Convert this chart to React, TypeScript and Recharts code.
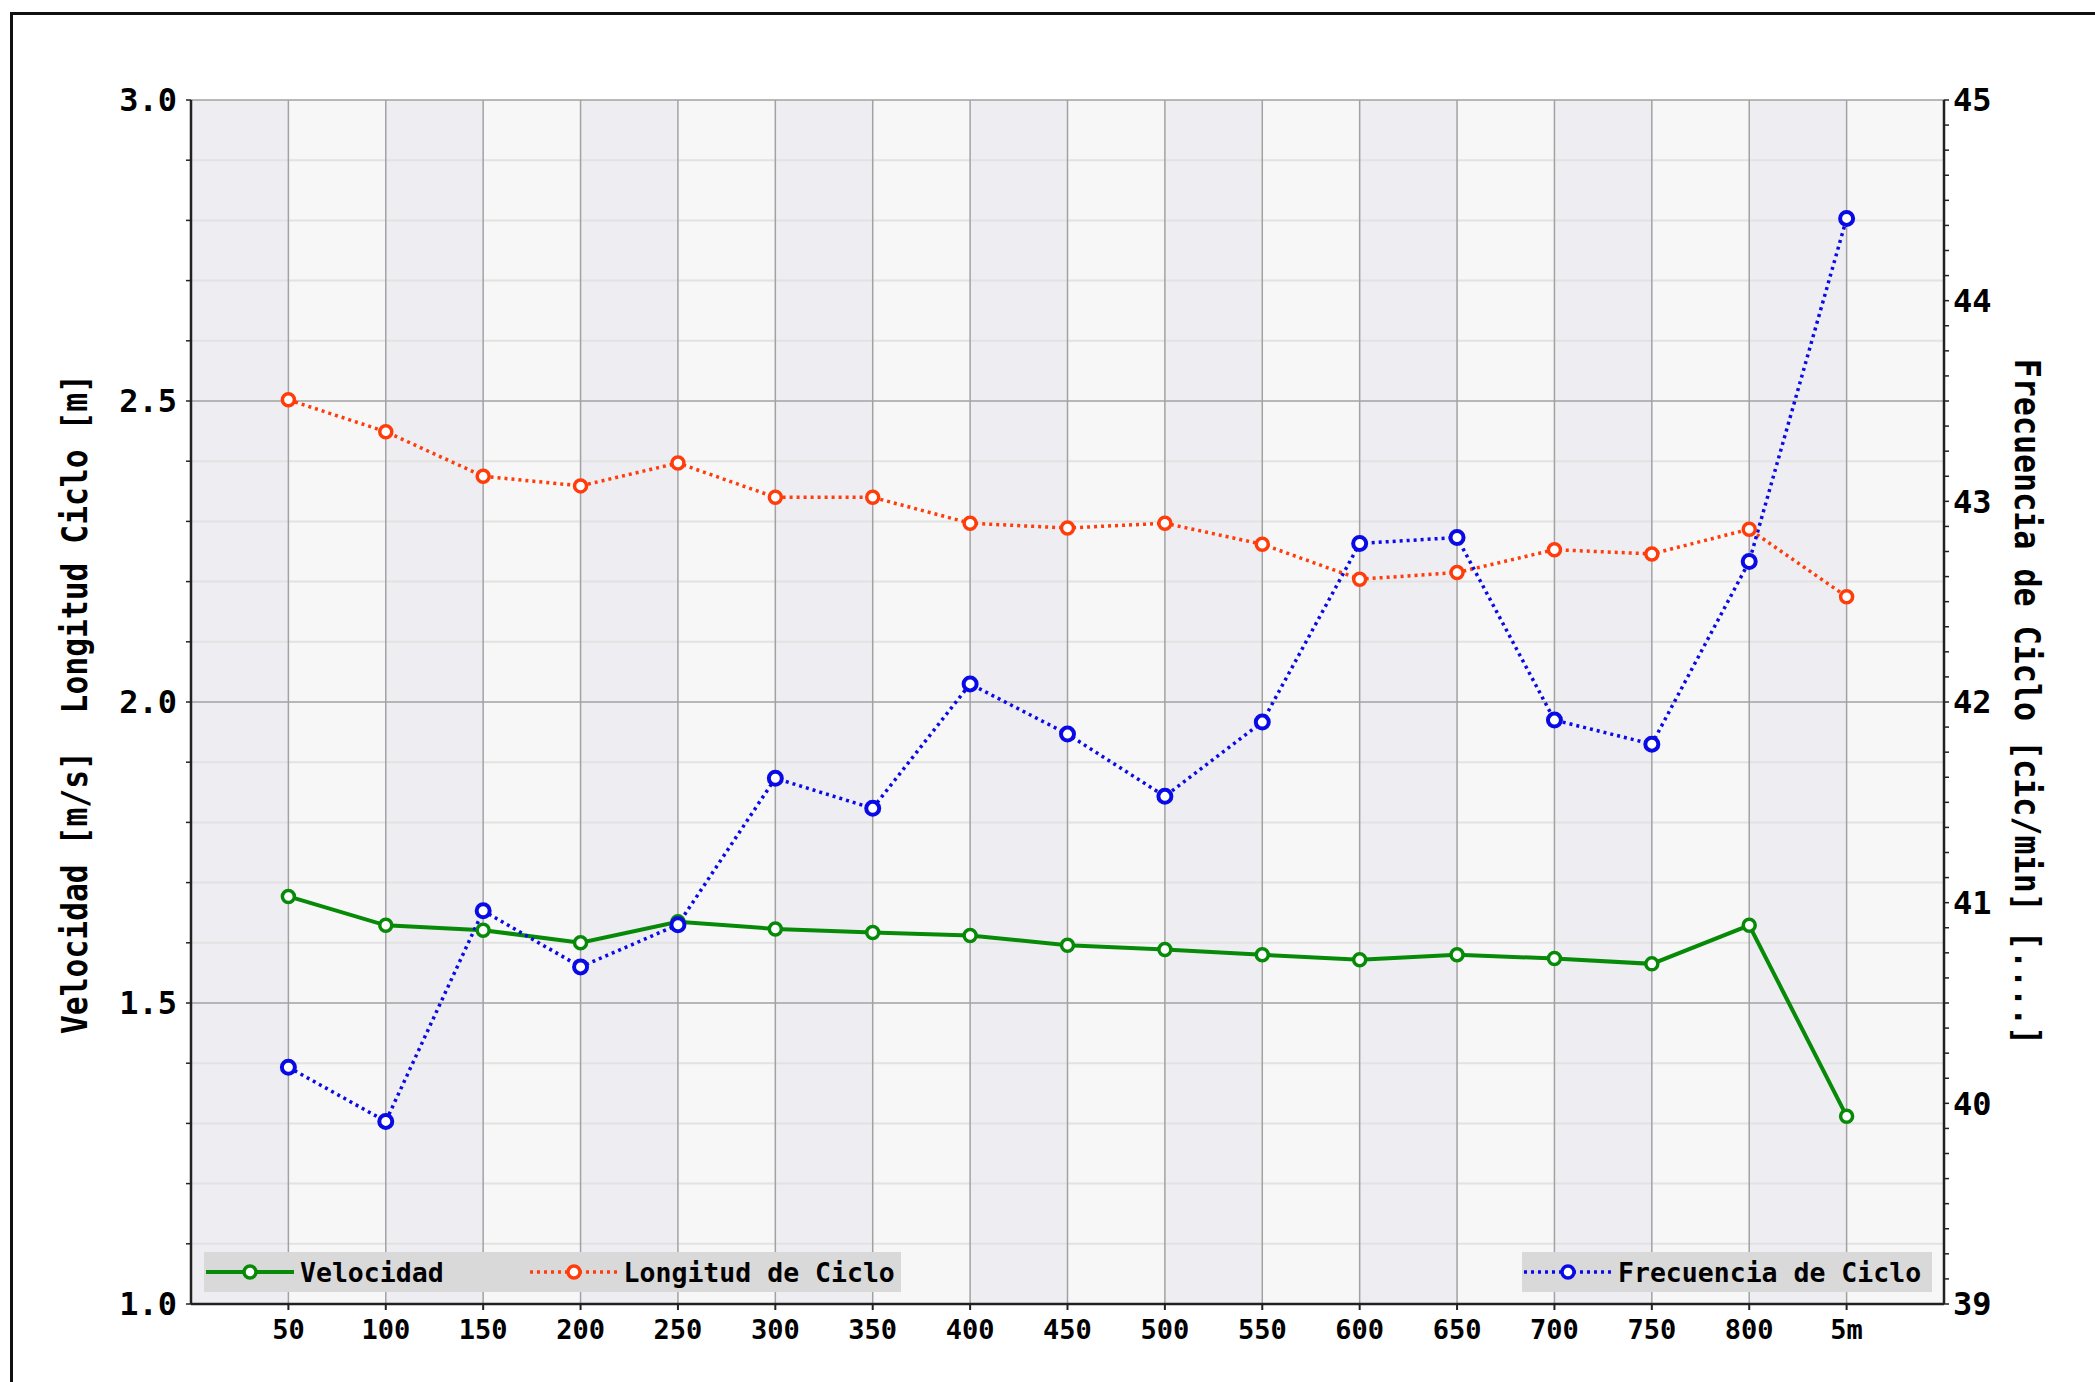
import { LineChart, Line, XAxis, YAxis, ReferenceArea, ReferenceLine } from 'recharts'

const categories = ['50', '100', '150', '200', '250', '300', '350', '400', '450', '500', '550', '600', '650', '700', '750', '800', '5m']
const velocidad = [1.677, 1.629, 1.621, 1.600, 1.635, 1.623, 1.617, 1.612, 1.596, 1.589, 1.580, 1.572, 1.580, 1.574, 1.565, 1.629, 1.312]
const longitud = [2.502, 2.449, 2.375, 2.359, 2.397, 2.340, 2.340, 2.297, 2.289, 2.297, 2.262, 2.204, 2.215, 2.253, 2.246, 2.287, 2.175]
const frecuencia = [40.18, 39.91, 40.96, 40.68, 40.89, 41.62, 41.47, 42.09, 41.84, 41.53, 41.90, 42.79, 42.82, 41.91, 41.79, 42.70, 44.41]

const leftTicks = [1.0, 1.1, 1.2, 1.3, 1.4, 1.5, 1.6, 1.7, 1.8, 1.9, 2.0, 2.1, 2.2, 2.3, 2.4, 2.5, 2.6, 2.7, 2.8, 2.9, 3.0]
const leftMajor = [1.5, 2.0, 2.5, 3.0]
const rightTicks = Array.from({ length: 49 }, (_, i) => 39 + i * 0.125)

const GREEN = '#078a07'
const RED = '#ff3c0a'
const BLUE = '#0a0ae6'
const FONT = '"DejaVu Sans Mono", monospace'

const data = categories.map((c, i) => ({
  idx: i + 1,
  label: c,
  velocidad: velocidad[i],
  longitud: longitud[i],
  frecuencia: frecuencia[i],
}))

const xTicks = categories.map((_, i) => i + 1)
const bands = Array.from({ length: categories.length + 1 }, (_, i) => i)

const tickStyle = { fill: '#000', fontSize: 32, fontWeight: 700, fontFamily: FONT }

function Sample({ color, dashed }: { color: string; dashed: boolean }) {
  return (
    <svg width={92} height={40} style={{ display: 'block' }}>
      <line x1={2} y1={20} x2={90} y2={20} stroke={color} strokeWidth={dashed ? 3.5 : 4} strokeDasharray={dashed ? '3 4' : undefined} />
      <circle cx={46} cy={20} r={6} fill="#fff" stroke={color} strokeWidth={3.5} />
    </svg>
  )
}

function LegendItem({ color, dashed, text }: { color: string; dashed: boolean; text: string }) {
  return (
    <div style={{ display: 'flex', alignItems: 'center' }}>
      <Sample color={color} dashed={dashed} />
      <span style={{ fontFamily: FONT, fontWeight: 700, fontSize: 26.5, marginLeft: 4, whiteSpace: 'pre' }}>{text}</span>
    </div>
  )
}

export default function App() {
  return (
    <div style={{ position: 'absolute', left: 0, top: 0, width: 2095, height: 1382, overflow: 'hidden', background: '#fff' }}>
      <div style={{ position: 'absolute', left: 10, top: 12, width: 2300, height: 1600, border: '3px solid #111' }} />
      <div style={{ position: 'absolute', left: 0, top: 0 }}>
        <LineChart width={2095} height={1382} data={data} margin={{ top: 100, right: 51, bottom: 18, left: 91 }}>
          <XAxis
            dataKey="idx"
            type="number"
            domain={[0, categories.length + 1]}
            ticks={xTicks}
            interval={0}
            tickFormatter={(v: number) => categories[v - 1] ?? ''}
            tick={{ ...tickStyle, fontSize: 27 }}
            tickSize={6}
            tickMargin={10}
            height={60}
            axisLine={{ stroke: '#222', strokeWidth: 2.5 }}
            tickLine={{ stroke: '#222', strokeWidth: 2 }}
          />
          <YAxis
            yAxisId="left"
            domain={[1, 3]}
            ticks={leftTicks}
            interval={0}
            width={100}
            tickFormatter={(v: number) => (Math.abs(v * 2 - Math.round(v * 2)) < 1e-6 ? v.toFixed(1) : '')}
            tick={tickStyle}
            tickSize={5}
            tickMargin={9}
            axisLine={{ stroke: '#222', strokeWidth: 2.5 }}
            tickLine={{ stroke: '#222', strokeWidth: 1.5 }}
          />
          <YAxis
            yAxisId="right"
            orientation="right"
            domain={[39, 45]}
            ticks={rightTicks}
            interval={0}
            width={100}
            tickFormatter={(v: number) => (Number.isInteger(v) ? String(v) : '')}
            tick={tickStyle}
            tickSize={5}
            tickMargin={4}
            axisLine={{ stroke: '#222', strokeWidth: 2.5 }}
            tickLine={{ stroke: '#222', strokeWidth: 1.5 }}
          />
          {bands.map(i => (
            <ReferenceArea
              key={`band-${i}`}
              yAxisId="left"
              x1={i}
              x2={i + 1}
              y1={1}
              y2={3}
              fill={i % 2 === 0 ? '#eeeef2' : '#f7f7f7'}
              fillOpacity={1}
              stroke="none"
            />
          ))}
          {leftTicks.filter(v => !leftMajor.includes(v) && v !== 1.0).map(v => (
            <ReferenceLine key={`hmin-${v}`} yAxisId="left" y={v} stroke="#e2e2e2" strokeWidth={2} />
          ))}
          {leftMajor.map(v => (
            <ReferenceLine key={`hmaj-${v}`} yAxisId="left" y={v} stroke="#a2a2a2" strokeWidth={1.5} />
          ))}
          {xTicks.map(v => (
            <ReferenceLine key={`v-${v}`} yAxisId="left" x={v} stroke="#a2a2a2" strokeWidth={1.5} />
          ))}
          <Line
            yAxisId="left"
            type="linear"
            dataKey="velocidad"
            stroke={GREEN}
            strokeWidth={4}
            dot={{ r: 6, fill: '#fff', stroke: GREEN, strokeWidth: 3.5 }}
            activeDot={false}
            isAnimationActive={false}
          />
          <Line
            yAxisId="left"
            type="linear"
            dataKey="longitud"
            stroke={RED}
            strokeWidth={3.5}
            strokeDasharray="3 4"
            dot={{ r: 6, fill: '#fff', stroke: RED, strokeWidth: 3.5, strokeDasharray: '' }}
            activeDot={false}
            isAnimationActive={false}
          />
          <Line
            yAxisId="right"
            type="linear"
            dataKey="frecuencia"
            stroke={BLUE}
            strokeWidth={3.5}
            strokeDasharray="3 4"
            dot={{ r: 6.5, fill: '#fff', stroke: BLUE, strokeWidth: 4, strokeDasharray: '' }}
            activeDot={false}
            isAnimationActive={false}
          />
        </LineChart>
      </div>

      <div
        style={{
          position: 'absolute', left: 74, top: 704, transform: 'translate(-50%, -50%) rotate(-90deg) scaleX(0.87)',
          fontFamily: FONT, fontWeight: 700, fontSize: 36, whiteSpace: 'pre', color: '#000',
        }}
      >
        Velocidad [m/s]  Longitud Ciclo [m]
      </div>
      <div
        style={{
          position: 'absolute', left: 2027, top: 702, transform: 'translate(-50%, -50%) rotate(90deg) scaleX(0.88)',
          fontFamily: FONT, fontWeight: 700, fontSize: 36, whiteSpace: 'pre', color: '#000',
        }}
      >
        Frecuencia de Ciclo [cic/min] [....]
      </div>

      <div style={{ position: 'absolute', left: 204, top: 1252, width: 697, height: 40, background: '#d9d9d9', display: 'flex', alignItems: 'center' }}>
        <LegendItem color={GREEN} dashed={false} text="Velocidad" />
        <div style={{ width: 84 }} />
        <LegendItem color={RED} dashed={true} text="Longitud de Ciclo" />
      </div>
      <div style={{ position: 'absolute', left: 1522, top: 1252, width: 410, height: 40, background: '#d9d9d9', display: 'flex', alignItems: 'center' }}>
        <LegendItem color={BLUE} dashed={true} text="Frecuencia de Ciclo" />
      </div>
    </div>
  )
}
